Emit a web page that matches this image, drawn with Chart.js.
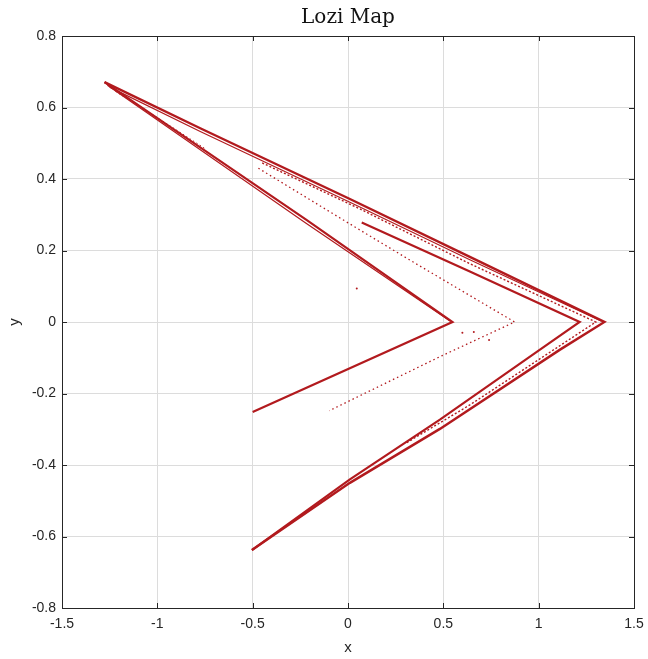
<!DOCTYPE html>
<html lang="en">
<head>
  <meta charset="UTF-8">
  <title>Lozi Map</title>
  <script src="https://cdn.jsdelivr.net/npm/chart.js"></script>
  <style>
    html, body { margin: 0; padding: 0; background: #fff; }
    .wrap { width: 648px; height: 659px; }
  </style>
</head>
<body>
  <div class="wrap"><canvas id="lozi"></canvas></div>
  <script>
    // attractor strands
    const outerX = [-1.277, -0.775, 0.01, 0.639, 1.345, 1.11, 0.482, 0.01, -0.504];
    const outerY = [0.671, 0.542, 0.344, 0.182, 0.0, -0.078, -0.299, -0.45, -0.638];
    const outerBX = [-1.25, -0.775, 0.01, 0.639, 1.33];
    const outerBY = [0.657, 0.533, 0.335, 0.174, 0.002];
    const innerX = [-1.277, -0.216, 0.548, -0.5];
    const innerY = [0.671, 0.285, 0.0, -0.252];
    const innerBX = [-1.262, -0.22, 0.535];
    const innerBY = [0.662, 0.276, 0.003];
    const midX = [0.072, 0.639, 1.215, 1.005, 0.482, 0.01, -0.504];
    const midY = [0.278, 0.141, 0.0, -0.078, -0.273, -0.44, -0.638];
    const dotAX = [-0.47, -0.042, 0.325, 0.874, 0.482, -0.098];
    const dotAY = [0.43, 0.291, 0.173, 0.0, -0.097, -0.248];
    const dotBX = [-0.45, 0.06, 0.639, 1.30, 0.639, 0.3];
    const dotBY = [0.445, 0.317, 0.163, 0.0, -0.232, -0.34];
    const dotCX = [-1.22, -0.98, -0.75];
    const dotCY = [0.645, 0.565, 0.485];
    const strayX = [0.046, 0.6, 0.66, 0.74];
    const strayY = [0.094, -0.03, -0.028, -0.05];

    const xTicks = [-1.5, -1, -0.5, 0, 0.5, 1, 1.5];
    const xTickLabels = ['-1.5', '-1', '-0.5', '0', '0.5', '1', '1.5'];
    const yTicks = [-0.8, -0.6, -0.4, -0.2, 0, 0.2, 0.4, 0.6, 0.8];
    const yTickLabels = ['-0.8', '-0.6', '-0.4', '-0.2', '0', '0.2', '0.4', '0.6', '0.8'];

    const red = 'rgb(178,26,30)';
    const pts = (xs, ys) => xs.map((x, i) => ({ x: x, y: ys[i] }));

    function strand(xs, ys, width, dash) {
      return {
        data: pts(xs, ys),
        showLine: true,
        borderColor: red,
        borderWidth: width,
        borderDash: dash || [],
        pointRadius: 0,
        fill: false
      };
    }

    // box and inward tick marks, matlab style
    const frame = {
      id: 'frame',
      afterDraw(chart) {
        const { ctx, chartArea: a, scales } = chart;
        ctx.save();
        ctx.strokeStyle = '#262626';
        ctx.lineWidth = 1;
        ctx.strokeRect(a.left + 0.5, a.top + 0.5, a.right - a.left, a.bottom - a.top);
        ctx.beginPath();
        xTicks.forEach(v => {
          const px = Math.round(scales.x.getPixelForValue(v)) + 0.5;
          ctx.moveTo(px, a.bottom); ctx.lineTo(px, a.bottom - 5);
          ctx.moveTo(px, a.top); ctx.lineTo(px, a.top + 5);
        });
        yTicks.forEach(v => {
          const py = Math.round(scales.y.getPixelForValue(v)) + 0.5;
          ctx.moveTo(a.left, py); ctx.lineTo(a.left + 5, py);
          ctx.moveTo(a.right, py); ctx.lineTo(a.right - 5, py);
        });
        ctx.stroke();
        ctx.restore();
      }
    };

    const tickFont = { family: '"Liberation Sans", Arial, sans-serif', size: 14 };

    new Chart(document.getElementById('lozi'), {
      type: 'scatter',
      data: {
        datasets: [
          strand(outerX, outerY, 2.4),
          strand(outerBX, outerBY, 1.2),
          strand(innerX, innerY, 2.2),
          strand(innerBX, innerBY, 1.2),
          strand(midX, midY, 2.2),
          strand(dotAX, dotAY, 1.3, [1.5, 3]),
          strand(dotBX, dotBY, 1.4, [2, 2]),
          strand(dotCX, dotCY, 1, [1.5, 2.5]),
          {
            data: pts(strayX, strayY),
            showLine: false,
            pointRadius: 1,
            pointBorderWidth: 0,
            pointBackgroundColor: red
          }
        ]
      },
      options: {
        responsive: true,
        maintainAspectRatio: false,
        animation: false,
        layout: { padding: { top: 0, right: 14, bottom: 0, left: 0 } },
        plugins: {
          legend: { display: false },
          tooltip: { enabled: false },
          title: {
            display: true,
            text: 'Lozi Map',
            fullSize: false,
            color: '#111',
            font: { family: '"DejaVu Serif", serif', size: 20, weight: 'normal' },
            padding: { top: 6, bottom: 6 }
          }
        },
        scales: {
          x: {
            type: 'linear',
            min: -1.5, max: 1.5,
            afterBuildTicks: s => { s.ticks = xTicks.map(v => ({ value: v })); },
            afterFit: s => { s.height = 51; s.paddingRight = 0; s.paddingLeft = 0; },
            grid: { color: '#dcdcdc', drawTicks: false },
            border: { display: false },
            ticks: {
              padding: 8,
              color: '#262626',
              font: tickFont,
              callback: (v, i) => xTickLabels[i]
            },
            title: {
              display: true, text: 'x', color: '#262626',
              font: { family: '"Liberation Sans", Arial, sans-serif', size: 15 },
              padding: { top: 0, bottom: 2 }
            }
          },
          y: {
            type: 'linear',
            min: -0.8, max: 0.8,
            afterBuildTicks: s => { s.ticks = yTicks.map(v => ({ value: v })); },
            afterFit: s => { s.width = 62; },
            grid: { color: '#dcdcdc', drawTicks: false },
            border: { display: false },
            ticks: {
              padding: 6,
              color: '#262626',
              font: tickFont,
              callback: (v, i) => yTickLabels[i]
            },
            title: {
              display: true, text: 'y', color: '#262626',
              font: { family: '"Liberation Sans", Arial, sans-serif', size: 15 },
              padding: { top: 6, bottom: 0 }
            }
          }
        }
      },
      plugins: [frame]
    });
  </script>
</body>
</html>
